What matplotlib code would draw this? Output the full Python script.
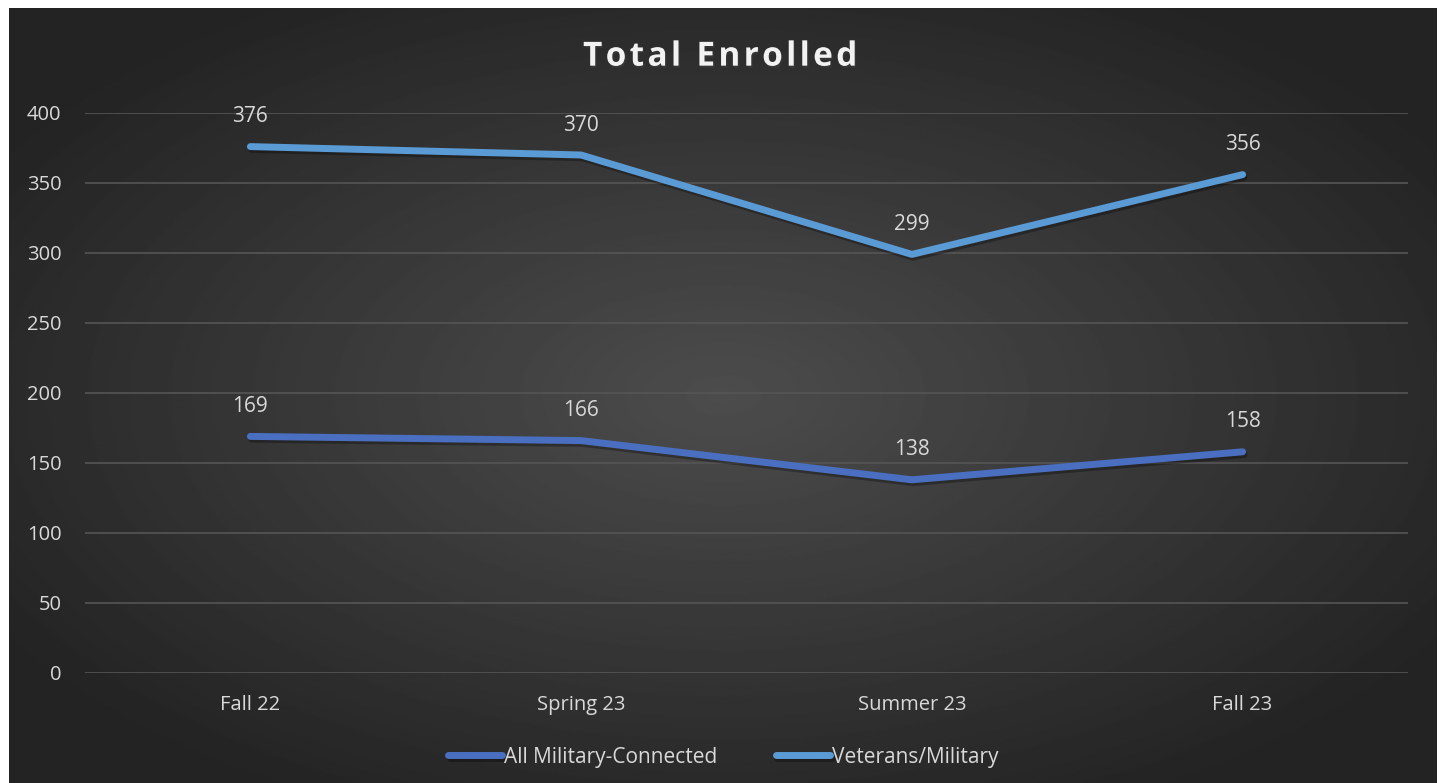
import matplotlib.pyplot as plt
import matplotlib.patheffects as pe
import numpy as np

terms = ['Fall 22', 'Spring 23', 'Summer 23', 'Fall 23']
all_military = [169, 166, 138, 158]
veterans = [376, 370, 299, 356]

plt.rcParams['font.family'] = ['Open Sans', 'DejaVu Sans']
text_color = '#d9d9d9'

fig = plt.figure(figsize=(14.47, 7.83), dpi=100)
fig.patch.set_facecolor('white')

# dark panel with radial gradient
bg = fig.add_axes([9 / 1447, 0, 1428 / 1447, 775 / 783])
yy, xx = np.mgrid[-1:1:400j, -1:1:700j]
r = np.sqrt((xx * 0.9) ** 2 + (yy * 0.9) ** 2)
g = np.clip(0.30 - 0.15 * r, 0.14, 0.30)
bg.imshow(g, cmap='gray', vmin=0, vmax=1, aspect='auto', extent=[0, 1, 0, 1])
bg.axis('off')

ax = fig.add_axes([85 / 1447, 110 / 783, 1323 / 1447, 560 / 783])
ax.patch.set_alpha(0)
x = np.arange(len(terms))
shadow = [pe.SimpleLineShadow(offset=(1, -2), alpha=0.3, shadow_color='black'), pe.Normal()]
ax.plot(x, all_military, color='#4a6fc0', lw=5, solid_capstyle='round',
        label='All Military-Connected', path_effects=shadow, zorder=3)
ax.plot(x, veterans, color='#5b9bd5', lw=5, solid_capstyle='round',
        label='Veterans/Military', path_effects=shadow, zorder=3)

for xi, v in zip(x, all_military):
    ax.annotate(str(v), (xi, v), xytext=(0, 14), textcoords='offset points',
                ha='center', va='bottom', color=text_color, fontsize=15)
for xi, v in zip(x, veterans):
    ax.annotate(str(v), (xi, v), xytext=(0, 14), textcoords='offset points',
                ha='center', va='bottom', color=text_color, fontsize=15)

ax.set_xlim(-0.5, 3.5)
ax.set_ylim(0, 400)
ax.set_yticks(range(0, 401, 50))
ax.set_xticks(x)
ax.set_xticklabels(terms)
ax.tick_params(colors=text_color, labelsize=14.5, length=0, pad=16)
ax.tick_params(axis='y', pad=17)
ax.grid(axis='y', color='#555555', lw=1.2)
ax.set_axisbelow(True)
for s in ax.spines.values():
    s.set_visible(False)

title = '\u200a'.join('Total Enrolled')
fig.text(0.498, 0.927, title, ha='center', va='center', color='#f2f2f2',
         fontsize=24, fontweight='bold',
         path_effects=[pe.withSimplePatchShadow(offset=(1, -1.5), alpha=0.3)])

fig.legend(loc='center', bbox_to_anchor=(0.5, 0.033), ncol=2, frameon=False,
           fontsize=15, labelcolor=text_color, handlelength=2.6, handletextpad=0.1,
           columnspacing=2.8)

fig.savefig('out.png', dpi=100)
